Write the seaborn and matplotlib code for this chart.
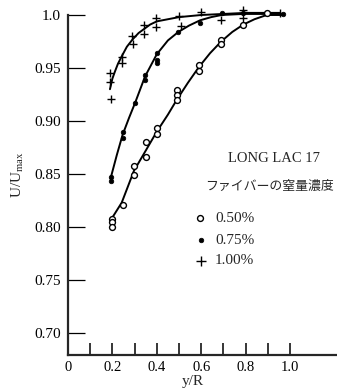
import matplotlib
matplotlib.use("Agg")
import matplotlib.pyplot as plt
import seaborn as sns
import pandas as pd

# ---- data ----
p50_x = [0.197, 0.197, 0.199, 0.246, 0.297, 0.297, 0.35, 0.35, 0.40, 0.40,
         0.492, 0.492, 0.492, 0.59, 0.59, 0.69, 0.69, 0.79, 0.895]
p50_y = [0.808, 0.805, 0.800, 0.821, 0.858, 0.849, 0.880, 0.866, 0.893, 0.888,
         0.929, 0.925, 0.920, 0.953, 0.947, 0.976, 0.973, 0.991, 1.002]

p75_x = [0.192, 0.192, 0.246, 0.246, 0.302, 0.347, 0.347, 0.40, 0.40, 0.40,
         0.497, 0.595, 0.692, 0.79, 0.97]
p75_y = [0.847, 0.843, 0.890, 0.884, 0.917, 0.943, 0.939, 0.964, 0.958, 0.955,
         0.984, 0.992, 1.002, 1.002, 1.001]

p100_x = [0.19, 0.19, 0.194, 0.245, 0.245, 0.29, 0.295, 0.344, 0.344, 0.396, 0.396,
          0.50, 0.51, 0.60, 0.69, 0.79, 0.79, 0.955]
p100_y = [0.945, 0.937, 0.921, 0.960, 0.955, 0.980, 0.973, 0.991, 0.982, 0.997, 0.989,
          0.999, 0.990, 1.003, 0.995, 1.005, 0.997, 1.002]

# fitted curves
c50_x = [0.197, 0.242, 0.297, 0.35, 0.40, 0.45, 0.49, 0.54, 0.59, 0.64, 0.69, 0.74, 0.79, 0.84, 0.895, 0.97]
c50_y = [0.808, 0.823, 0.853, 0.872, 0.890, 0.906, 0.920, 0.936, 0.951, 0.964, 0.975, 0.984, 0.991, 0.996, 1.0, 1.0]
c75_x = [0.192, 0.22, 0.246, 0.275, 0.302, 0.347, 0.40, 0.45, 0.497, 0.545, 0.595, 0.645, 0.692, 0.79, 0.97]
c75_y = [0.846, 0.868, 0.887, 0.903, 0.917, 0.942, 0.963, 0.976, 0.984, 0.990, 0.995, 0.998, 1.0, 1.001, 1.001]
c100_x = [0.189, 0.20, 0.212, 0.225, 0.242, 0.265, 0.291, 0.318, 0.344, 0.37, 0.40, 0.45, 0.50, 0.60, 0.70, 0.80, 0.955]
c100_y = [0.930, 0.940, 0.947, 0.954, 0.961, 0.970, 0.977, 0.983, 0.987, 0.991, 0.994, 0.996, 0.998, 1.0, 1.001, 1.002, 1.002]

y_ticks = [0.70, 0.75, 0.80, 0.85, 0.90, 0.95, 1.0]
y_tick_labels = ["0.70", "0.75", "0.80", "0.85", "0.90", "0.95", "1.0"]
x_ticks = [0, 0.2, 0.4, 0.6, 0.8, 1.0]
x_tick_labels = ["0", "0.2", "0.4", "0.6", "0.8", "1.0"]
x_minor = [0.1, 0.3, 0.5, 0.7, 0.9]

legend_labels = ["0.50%", "0.75%", "1.00%"]
title_text = "LONG LAC 17"
subtitle_text = "ファイバーの窒量濃度"

# ---- styling ----
sns.set_style("ticks")
plt.rcParams["font.family"] = ["Liberation Serif", "Noto Sans CJK JP"]
plt.rcParams["mathtext.fontset"] = "custom"
plt.rcParams["mathtext.rm"] = "Liberation Serif"
plt.rcParams["mathtext.it"] = "Liberation Serif:italic"

W, H = 337, 392
fig = plt.figure(figsize=(W / 100, H / 100), dpi=100)
ax = fig.add_axes([68 / W, 1 - 355 / H, (W - 68) / W, 355 / H])

ymin = 1.0 - (355 - 15) / 1060
ymax = 1.0 + 15 / 1060
ax.set_ylim(ymin, ymax)
ax.set_xlim(0, (W - 68) / 222)

k = "black"
for cx, cy in [(c50_x, c50_y), (c75_x, c75_y), (c100_x, c100_y)]:
    sns.lineplot(x=cx, y=cy, sort=False, color=k, lw=1.4, ax=ax)

sns.scatterplot(x=p50_x, y=p50_y, marker="o", s=18, facecolor="white",
                edgecolor=k, linewidth=1.0, ax=ax, zorder=3)
sns.scatterplot(x=p75_x, y=p75_y, marker="o", s=11, color=k,
                edgecolor=k, linewidth=0.5, ax=ax, zorder=3)
sns.scatterplot(x=p100_x, y=p100_y, marker="+", s=38, color=k,
                linewidth=1.0, ax=ax, zorder=3)

sns.despine(ax=ax, top=True, right=True)
ax.spines["left"].set_linewidth(1.6)
ax.spines["bottom"].set_linewidth(1.6)
ax.spines["left"].set_bounds(ymin, 1.0)

ax.set_yticks(y_ticks)
ax.set_yticklabels(y_tick_labels)
ax.set_xticks(x_ticks)
ax.set_xticklabels(x_tick_labels)
ax.set_xticks(x_minor, minor=True)
ax.tick_params(axis="y", direction="in", length=12, width=0.9, pad=5,
               labelsize=11, colors=k)
ax.tick_params(axis="x", which="both", direction="in", length=9, width=1.1,
               pad=4.5, labelsize=10.5, colors=k)
ax.set_xlabel("")
ax.set_ylabel("")

# axis labels
fig.text(193 / W, 1 - 382 / H, "y/R", ha="center", va="center", fontsize=11)
fig.text(18 / W, 1 - 175 / H, r"U/U$_{\rm max}$", ha="center", va="center",
         rotation=90, fontsize=11)

# annotations / legend
fig.text(228 / W, 1 - 158 / H, title_text, ha="left", va="center", fontsize=10.5)
fig.text(205 / W, 1 - 186 / H, subtitle_text, ha="left", va="center",
         fontsize=9.3, family=["Noto Sans CJK JP"])

leg_y = [218, 240, 261]
ax2 = fig.add_axes([0, 0, 1, 1])
ax2.set_xlim(0, W)
ax2.set_ylim(H, 0)
ax2.axis("off")
sns.scatterplot(x=[200], y=[leg_y[0]], marker="o", s=18, facecolor="white",
                edgecolor=k, linewidth=1.0, ax=ax2)
sns.scatterplot(x=[201], y=[leg_y[1]], marker="o", s=11, color=k,
                edgecolor=k, linewidth=0.5, ax=ax2)
sns.scatterplot(x=[201], y=[leg_y[2]], marker="+", s=50, color=k,
                linewidth=1.0, ax=ax2)
for lbl, yy in zip(legend_labels, leg_y):
    ax2.text(215, yy, lbl, ha="left", va="center", fontsize=11)

fig.savefig("out.png", dpi=100)
